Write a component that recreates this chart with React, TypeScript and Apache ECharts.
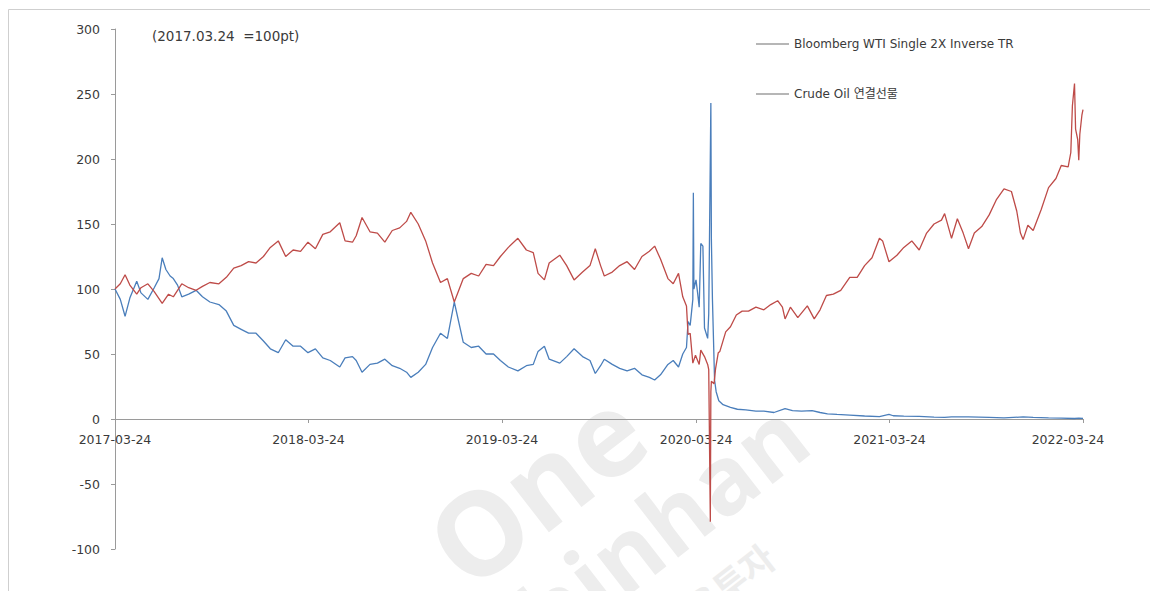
import React, { useEffect, useRef } from 'react';
import * as echarts from 'echarts';

const tickLabels = ['2017-03-24', '2018-03-24', '2019-03-24', '2020-03-24', '2021-03-24', '2022-03-24'];
const seriesNames = ['Bloomberg WTI Single 2X Inverse TR', 'Crude Oil 연결선물'];
const baseNote = '(2017.03.24 \u00a0=100pt)';
const watermarkTexts = ['One', 'Shinhan', '신한금융투자'];

const inverseDates = [
  '2017-03-24', '2017-04-03', '2017-04-12', '2017-04-21', '2017-05-04', '2017-05-12', '2017-05-25', '2017-06-06',
  '2017-06-15', '2017-06-21', '2017-06-28', '2017-07-06', '2017-07-12', '2017-07-20', '2017-07-28', '2017-08-10',
  '2017-08-24', '2017-09-05', '2017-09-19', '2017-10-06', '2017-10-20', '2017-11-03', '2017-11-17', '2017-12-01',
  '2017-12-15', '2017-12-29', '2018-01-11', '2018-01-26', '2018-02-09', '2018-02-23', '2018-03-09', '2018-03-23',
  '2018-04-06', '2018-04-20', '2018-05-04', '2018-05-22', '2018-06-01', '2018-06-15', '2018-06-22', '2018-07-03',
  '2018-07-18', '2018-08-01', '2018-08-15', '2018-08-29', '2018-09-12', '2018-09-25', '2018-10-03', '2018-10-17',
  '2018-10-31', '2018-11-13', '2018-11-28', '2018-12-11', '2018-12-24', '2019-01-10', '2019-01-25', '2019-02-08',
  '2019-02-22', '2019-03-08', '2019-03-21', '2019-04-05', '2019-04-23', '2019-05-09', '2019-05-22', '2019-05-31',
  '2019-06-12', '2019-06-21', '2019-07-11', '2019-07-24', '2019-08-07', '2019-08-23', '2019-09-06', '2019-09-16',
  '2019-09-26', '2019-10-03', '2019-10-18', '2019-11-01', '2019-11-15', '2019-11-29', '2019-12-13', '2019-12-27',
  '2020-01-06', '2020-01-17', '2020-01-31', '2020-02-10', '2020-02-20', '2020-02-28', '2020-03-06', '2020-03-09',
  '2020-03-13', '2020-03-18', '2020-03-19', '2020-03-20', '2020-03-24', '2020-03-27', '2020-03-30', '2020-04-02',
  '2020-04-06', '2020-04-09', '2020-04-15', '2020-04-17', '2020-04-21', '2020-04-22', '2020-04-24', '2020-04-28',
  '2020-05-01', '2020-05-06', '2020-05-14', '2020-05-28', '2020-06-10', '2020-06-26', '2020-07-15', '2020-07-30',
  '2020-08-18', '2020-09-08', '2020-09-22', '2020-10-09', '2020-10-29', '2020-11-13', '2020-11-27', '2020-12-15',
  '2021-01-08', '2021-02-05', '2021-03-05', '2021-03-23', '2021-03-31', '2021-04-20', '2021-05-19', '2021-06-16',
  '2021-07-06', '2021-07-19', '2021-08-20', '2021-09-28', '2021-10-26', '2021-12-01', '2021-12-20', '2022-01-18',
  '2022-02-11', '2022-03-08', '2022-03-16', '2022-03-24',
];
const inverseValues = [
  100, 92, 79, 93, 106, 97, 92, 101,
  108, 124, 115, 110, 108, 103, 94, 96,
  99, 94, 90, 88, 83, 72, 69, 66,
  66, 60, 54, 51, 61, 56, 56, 51,
  54, 47, 45, 40, 47, 48, 45, 36,
  42, 43, 46, 41, 39, 36, 32, 36,
  42, 55, 66, 62, 90, 59, 55, 56,
  50, 50, 45, 40, 37, 41, 42, 52,
  56, 46, 43, 48, 54, 48, 45, 35,
  41, 46, 42, 39, 37, 39, 34, 32,
  30, 34, 42, 45, 40, 50, 55, 75,
  72, 92, 174, 100, 107, 97, 86, 135,
  133, 70, 62, 81, 243, 138, 92, 30,
  21, 14, 11, 9, 7.5, 7, 6, 6,
  5, 8, 6.5, 6, 6.5, 5, 4, 3.5,
  3, 2.3, 1.8, 3.5, 2.5, 2.2, 2, 1.5,
  1.2, 1.6, 1.6, 1.2, 0.8, 1.6, 1.3, 0.9,
  0.7, 0.4, 0.6, 0.5,
];

const crudeDates = [
  '2017-03-24', '2017-04-03', '2017-04-12', '2017-04-21', '2017-05-04', '2017-05-12', '2017-05-25', '2017-06-06',
  '2017-06-21', '2017-07-03', '2017-07-12', '2017-07-28', '2017-08-10', '2017-08-24', '2017-09-05', '2017-09-19',
  '2017-10-06', '2017-10-20', '2017-11-03', '2017-11-17', '2017-12-01', '2017-12-15', '2017-12-29', '2018-01-11',
  '2018-01-26', '2018-02-09', '2018-02-23', '2018-03-09', '2018-03-23', '2018-04-06', '2018-04-20', '2018-05-04',
  '2018-05-22', '2018-06-01', '2018-06-15', '2018-06-22', '2018-07-03', '2018-07-18', '2018-08-01', '2018-08-15',
  '2018-08-29', '2018-09-12', '2018-09-25', '2018-10-03', '2018-10-17', '2018-10-31', '2018-11-13', '2018-11-28',
  '2018-12-11', '2018-12-24', '2019-01-10', '2019-01-25', '2019-02-08', '2019-02-22', '2019-03-08', '2019-03-21',
  '2019-04-05', '2019-04-23', '2019-05-09', '2019-05-22', '2019-05-31', '2019-06-12', '2019-06-21', '2019-07-11',
  '2019-07-24', '2019-08-07', '2019-08-23', '2019-09-06', '2019-09-16', '2019-09-26', '2019-10-03', '2019-10-18',
  '2019-11-01', '2019-11-15', '2019-11-29', '2019-12-13', '2019-12-27', '2020-01-06', '2020-01-17', '2020-01-31',
  '2020-02-10', '2020-02-20', '2020-02-28', '2020-03-06', '2020-03-09', '2020-03-13', '2020-03-18', '2020-03-23',
  '2020-03-30', '2020-04-02', '2020-04-09', '2020-04-15', '2020-04-17', '2020-04-20', '2020-04-21', '2020-04-22',
  '2020-04-27', '2020-04-30', '2020-05-05', '2020-05-08', '2020-05-19', '2020-05-28', '2020-06-08', '2020-06-19',
  '2020-07-01', '2020-07-15', '2020-07-30', '2020-08-12', '2020-08-25', '2020-09-03', '2020-09-08', '2020-09-18',
  '2020-10-02', '2020-10-20', '2020-11-02', '2020-11-13', '2020-11-25', '2020-12-08', '2020-12-22', '2021-01-08',
  '2021-01-22', '2021-02-05', '2021-02-19', '2021-03-05', '2021-03-11', '2021-03-23', '2021-04-07', '2021-04-20',
  '2021-05-05', '2021-05-19', '2021-06-02', '2021-06-16', '2021-06-30', '2021-07-06', '2021-07-19', '2021-07-30',
  '2021-08-10', '2021-08-20', '2021-08-31', '2021-09-14', '2021-09-28', '2021-10-12', '2021-10-26', '2021-11-09',
  '2021-11-19', '2021-11-26', '2021-12-01', '2021-12-10', '2021-12-20', '2022-01-04', '2022-01-18', '2022-02-01',
  '2022-02-11', '2022-02-24', '2022-03-01', '2022-03-04', '2022-03-08', '2022-03-10', '2022-03-14', '2022-03-16',
  '2022-03-18', '2022-03-22', '2022-03-24',
];
const crudeValues = [
  100, 104, 111, 103, 96, 101, 104, 98,
  89, 96, 94, 104, 101, 99, 102, 105,
  104, 109, 116, 118, 121, 120, 125, 132,
  137, 125, 130, 129, 136, 131, 142, 144,
  151, 137, 136, 141, 155, 144, 143, 136,
  145, 147, 152, 159, 150, 137, 120, 105,
  108, 90, 108, 112, 110, 119, 118, 125,
  132, 139, 130, 128, 112, 107, 120, 126,
  118, 107, 113, 118, 131, 118, 110, 113,
  118, 121, 115, 125, 129, 133, 123, 108,
  104, 112, 94, 87, 65, 66, 43, 49,
  42, 53, 48, 42, 38, -79, 21, 29,
  27, 39, 51, 52, 67, 71, 80, 83,
  83, 86, 84, 88, 91, 86, 77, 86,
  78, 87, 77, 84, 95, 96, 99, 109,
  109, 118, 124, 139, 137, 121, 126, 132,
  137, 130, 143, 150, 153, 158, 139, 154,
  143, 131, 143, 148, 157, 169, 177, 175,
  160, 143, 138, 149, 145, 161, 178, 185,
  195, 194, 205, 241, 258, 223, 215, 199,
  219, 234, 238,
];

const toTs = (s: string) => new Date(s + 'T00:00:00').getTime();
const pad = (n: number) => (n < 10 ? '0' + n : '' + n);
const fmtDate = (v: number) => {
  const d = new Date(v);
  return d.getFullYear() + '-' + pad(d.getMonth() + 1) + '-' + pad(d.getDate());
};

const FONT = "'DejaVu Sans', 'Noto Sans CJK KR', sans-serif";
const LABEL_COLOR = '#3a3a3a';

export default function App() {
  const ref = useRef<HTMLDivElement>(null);

  useEffect(() => {
    if (!ref.current) return;
    document.body.style.margin = '0';
    const chart = echarts.init(ref.current, undefined, { renderer: 'svg' });
    const tickTs = tickLabels.map(toTs);
    const lastTs = tickTs[tickTs.length - 1];

    const option = {
      animation: false,
      backgroundColor: '#ffffff',
      grid: { left: 115, right: 67, top: 29, bottom: 42, containLabel: false },
      legend: {
        orient: 'vertical',
        left: 756,
        top: 38,
        padding: 0,
        itemGap: 38,
        itemWidth: 33,
        itemHeight: 1,
        icon: 'rect',
        data: seriesNames,
        itemStyle: { color: '#6e6e6e' },
        textStyle: { fontFamily: FONT, fontSize: 12, color: LABEL_COLOR },
      },
      graphic: [
        {
          type: 'rect',
          silent: true,
          z: -10,
          shape: { x: 8.5, y: 9.5, width: 1160, height: 620 },
          style: { fill: 'none', stroke: '#cfcfcf', lineWidth: 1 },
        },
        {
          type: 'text',
          silent: true,
          z: -5,
          x: 535,
          y: 486,
          rotation: 0.66,
          style: {
            text: watermarkTexts[0],
            fontFamily: "'Open Sans', 'Noto Sans', sans-serif",
            fontWeight: 'bold',
            fontSize: 116,
            fill: '#ededed',
            textAlign: 'center',
            textVerticalAlign: 'middle',
          },
        },
        {
          type: 'text',
          silent: true,
          z: -5,
          x: 640,
          y: 540,
          rotation: 0.66,
          style: {
            text: watermarkTexts[1],
            fontFamily: "'Open Sans', 'Noto Sans', sans-serif",
            fontWeight: 'bold',
            fontSize: 95,
            fill: '#ededed',
            textAlign: 'center',
            textVerticalAlign: 'middle',
          },
        },
        {
          type: 'text',
          silent: true,
          z: -5,
          x: 690,
          y: 612,
          rotation: 0.66,
          style: {
            text: watermarkTexts[2],
            fontFamily: "'Noto Sans CJK KR', sans-serif",
            fontWeight: 'bold',
            fontSize: 36,
            fill: '#ededed',
            textAlign: 'center',
            textVerticalAlign: 'middle',
          },
        },
        {
          type: 'text',
          silent: true,
          x: 152,
          y: 36,
          style: {
            text: baseNote,
            fontFamily: FONT,
            fontSize: 13.5,
            fill: LABEL_COLOR,
            textAlign: 'left',
            textVerticalAlign: 'middle',
          },
        },
      ],
      xAxis: {
        type: 'value',
        min: tickTs[0],
        max: lastTs,
        position: 'bottom',
        offset: -130,
        axisLine: { onZero: false, lineStyle: { color: '#9a9a9a', width: 1 } },
        axisTick: { show: true, customValues: tickTs, length: 4, lineStyle: { color: '#9a9a9a' } },
        axisLabel: {
          customValues: tickTs,
          formatter: (v: number) => (v === lastTs ? '{last|' + fmtDate(v) + '}' : fmtDate(v)),
          fontFamily: FONT,
          fontSize: 12.5,
          color: LABEL_COLOR,
          margin: 14,
          showMinLabel: true,
          showMaxLabel: true,
          rich: {
            last: { fontFamily: FONT, fontSize: 12.5, color: LABEL_COLOR, padding: [0, 30, 0, 0] },
          },
        },
        splitLine: { show: false },
      },
      yAxis: {
        type: 'value',
        min: -100,
        max: 300,
        interval: 50,
        axisLine: { show: true, onZero: false, lineStyle: { color: '#9a9a9a', width: 1 } },
        axisTick: { show: true, length: 4, lineStyle: { color: '#9a9a9a' } },
        axisLabel: { fontFamily: FONT, fontSize: 12.5, color: LABEL_COLOR, margin: 15 },
        splitLine: { show: false },
      },
      series: [
        {
          name: seriesNames[0],
          type: 'line',
          symbol: 'none',
          color: '#4a7ebb',
          lineStyle: { width: 1.3, color: '#4a7ebb' },
          data: inverseDates.map((d, i) => [toTs(d), inverseValues[i]]),
        },
        {
          name: seriesNames[1],
          type: 'line',
          symbol: 'none',
          color: '#be4b48',
          lineStyle: { width: 1.3, color: '#be4b48' },
          data: crudeDates.map((d, i) => [toTs(d), crudeValues[i]]),
        },
      ],
    };

    chart.setOption(option as any);
    return () => chart.dispose();
  }, []);

  return <div ref={ref} style={{ position: 'fixed', left: 0, top: 0, width: 1150, height: 591 }} />;
}
